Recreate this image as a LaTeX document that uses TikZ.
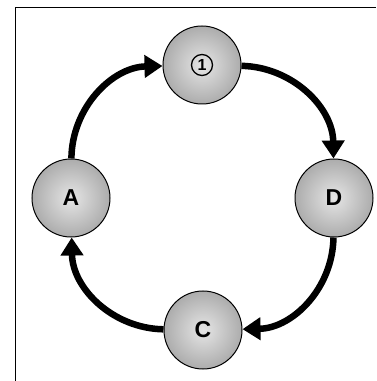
\documentclass[tikz,border=0pt]{standalone}
\usepackage{fontspec}
\setmainfont{Liberation Sans}
\usetikzlibrary{arrows.meta}
\begin{document}
\begin{tikzpicture}[x=1pt,y=1pt,
  ball/.style={circle, minimum size=78pt, inner sep=0pt, draw=black, line width=1pt,
    inner color=gray!20, outer color=gray!65, font=\fontsize{23}{23}\selectfont\bfseries},
  flow/.style={line width=6.5pt, -{Triangle[width=22pt,length=18pt]}},
  circnum/.style={circle, draw=black, line width=1.3pt, minimum size=21pt, inner sep=0pt,
    font=\fontsize{16}{16}\selectfont\bfseries}]
\useasboundingbox (0,0) rectangle (376,381);
% frame
\draw[line width=1pt] (15,0) -- (15,373) -- (376,373);
% nodes
\node[ball] (one) at (202,316) {};
\node[circnum] (onelabel) at (one.center) {1};
\node[ball] (D) at (334,183) {D};
\node[ball] (C) at (203,51) {C};
\node[ball] (A) at (71,183) {A};
% connectors
\draw[flow] (A) to[bend left=44] (one);
\draw[flow] (one) to[bend left=44] (D);
\draw[flow] (D) to[bend left=44] (C);
\draw[flow] (C) to[bend left=44] (A);
\end{tikzpicture}
\end{document}
